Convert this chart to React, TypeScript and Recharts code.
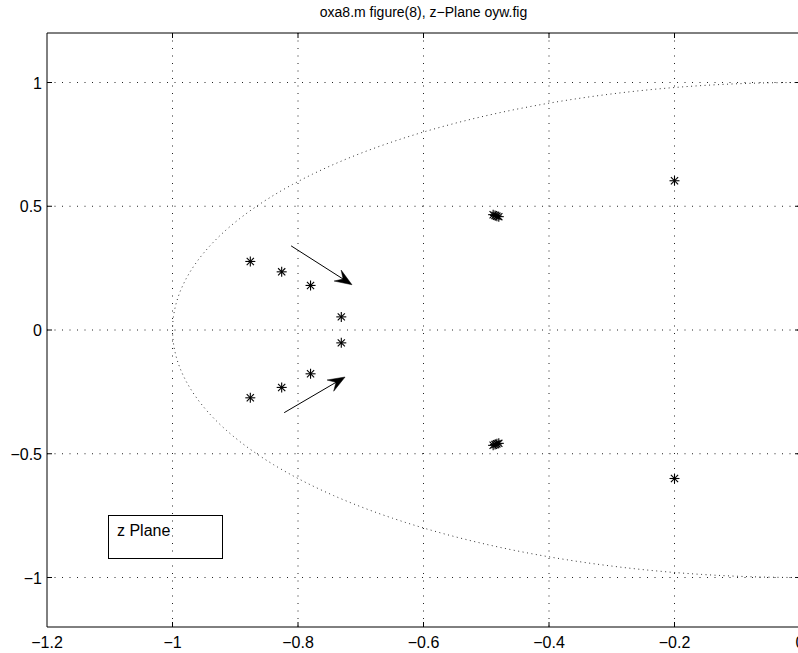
import React from 'react';
import { ComposedChart, Scatter, XAxis, YAxis, ReferenceLine, ReferenceArea } from 'recharts';

const titleText = 'oxa8.m figure(8), z\u2212Plane oyw.fig';
const legendText = 'z Plane';
const xTicks = [-1.2, -1, -0.8, -0.6, -0.4, -0.2, 0];
const yTicks = [-1, -0.5, 0, 0.5, 1];
const xDomain: [number, number] = [-1.2, 0];
const yDomain: [number, number] = [-1.2, 1.2];

// pole locations (asterisks)
const poleX = [-0.876, -0.826, -0.78, -0.731, -0.731, -0.78, -0.826, -0.876, -0.489, -0.486, -0.483, -0.480, -0.489, -0.486, -0.483, -0.480, -0.2, -0.2];
const poleY = [0.277, 0.235, 0.18, 0.053, -0.052, -0.177, -0.232, -0.274, 0.466, 0.463, 0.460, 0.458, -0.466, -0.463, -0.460, -0.458, 0.603, -0.6];

// arrows: [x1, y1, x2, y2]
const arrowUpper = [-0.811, 0.34, -0.714, 0.183];
const arrowLower = [-0.822, -0.334, -0.725, -0.19];

// unit circle reference (left half, visible part)
const circleAnglesDeg: number[] = [];
for (let a = 90; a <= 270; a += 1.5) circleAnglesDeg.push(a);

const poles = poleX.map((x, i) => ({ x, y: poleY[i] }));
const circle = circleAnglesDeg.map((a) => ({ x: Math.cos((a * Math.PI) / 180), y: Math.sin((a * Math.PI) / 180) }));

const FONT = '"Liberation Sans", Arial, Helvetica, sans-serif';
const fmt = (v: number) => String(v).replace('-', '\u2212');

const Asterisk = (props: any) => {
  const { cx, cy } = props;
  if (cx == null || cy == null) return <g />;
  const r = 5;
  const d = 3.6;
  return (
    <g stroke="#000" strokeWidth={1.1}>
      <line x1={cx - r} y1={cy} x2={cx + r} y2={cy} />
      <line x1={cx} y1={cy - r} x2={cx} y2={cy + r} />
      <line x1={cx - d} y1={cy - d} x2={cx + d} y2={cy + d} />
      <line x1={cx - d} y1={cy + d} x2={cx + d} y2={cy - d} />
    </g>
  );
};

const ArrowShape = (p: any) => {
  const { x1, y1, x2, y2 } = p;
  const dx = x2 - x1;
  const dy = y2 - y1;
  const len = Math.sqrt(dx * dx + dy * dy) || 1;
  const ux = dx / len;
  const uy = dy / len;
  const nx = -uy;
  const ny = ux;
  const hl = 17;
  const hw = 6.5;
  const bx = x2 - ux * hl;
  const by = y2 - uy * hl;
  const notchX = x2 - ux * (hl * 0.62);
  const notchY = y2 - uy * (hl * 0.62);
  const pts = `${x2},${y2} ${bx + nx * hw},${by + ny * hw} ${notchX},${notchY} ${bx - nx * hw},${by - ny * hw}`;
  return (
    <g>
      <line x1={x1} y1={y1} x2={notchX} y2={notchY} stroke="#000" strokeWidth={1} />
      <polygon points={pts} fill="#000" stroke="#000" strokeWidth={0.5} />
    </g>
  );
};

const VGrid = (p: any) => {
  const { x1, y1, y2 } = p;
  const top = Math.min(y1, y2);
  const bot = Math.max(y1, y2);
  return (
    <g>
      <line x1={x1} y1={top} x2={x1} y2={bot} stroke="#222" strokeWidth={1} strokeDasharray="1 6.5" />
      <line x1={x1} y1={top} x2={x1} y2={top + 5} stroke="#000" strokeWidth={1} />
      <line x1={x1} y1={bot} x2={x1} y2={bot - 5} stroke="#000" strokeWidth={1} />
    </g>
  );
};

const HGrid = (p: any) => {
  const { x1, x2, y1 } = p;
  const l = Math.min(x1, x2);
  const r = Math.max(x1, x2);
  return (
    <g>
      <line x1={l} y1={y1} x2={r} y2={y1} stroke="#222" strokeWidth={1} strokeDasharray="1 6.5" />
      <line x1={l} y1={y1} x2={l + 5} y2={y1} stroke="#000" strokeWidth={1} />
      <line x1={r} y1={y1} x2={r - 5} y2={y1} stroke="#000" strokeWidth={1} />
    </g>
  );
};

const XTick = (props: any) => {
  const { x, y, payload } = props;
  return (
    <text x={x} y={y + 21} textAnchor="middle" fontSize={16} fontFamily={FONT} fill="#000">
      {fmt(payload.value)}
    </text>
  );
};

const YTick = (props: any) => {
  const { x, y, payload } = props;
  return (
    <text x={x - 5} y={y + 6} textAnchor="end" fontSize={16} fontFamily={FONT} fill="#000">
      {fmt(payload.value)}
    </text>
  );
};

export default function App() {
  return (
    <div style={{ position: 'absolute', left: 0, top: 0, width: 798, height: 653, overflow: 'hidden', background: '#fff' }}>
      <ComposedChart width={810} height={653} margin={{ top: 33, right: 10, bottom: 0, left: 0 }}>
        <XAxis
          dataKey="x"
          type="number"
          domain={xDomain}
          ticks={xTicks}
          allowDataOverflow
          tickLine={false}
          axisLine={false}
          tickSize={0}
          tickMargin={0}
          height={26}
          tick={<XTick />}
          interval={0}
        />
        <YAxis
          dataKey="y"
          type="number"
          domain={yDomain}
          ticks={yTicks}
          allowDataOverflow
          tickLine={false}
          axisLine={false}
          tickSize={0}
          tickMargin={0}
          width={47}
          tick={<YTick />}
          interval={0}
        />
        {xTicks.slice(1, -1).map((v) => (
          <ReferenceLine key={'vx' + v} x={v} shape={VGrid} />
        ))}
        {yTicks.map((v) => (
          <ReferenceLine key={'hy' + v} y={v} shape={HGrid} />
        ))}
        <Scatter
          data={circle}
          line={{ stroke: '#333', strokeWidth: 1, strokeDasharray: '1 3.5' }}
          shape={() => <g />}
          isAnimationActive={false}
        />
        <Scatter data={poles} shape={<Asterisk />} isAnimationActive={false} />
        <ReferenceLine
          segment={[{ x: arrowUpper[0], y: arrowUpper[1] }, { x: arrowUpper[2], y: arrowUpper[3] }]}
          shape={ArrowShape}
        />
        <ReferenceLine
          segment={[{ x: arrowLower[0], y: arrowLower[1] }, { x: arrowLower[2], y: arrowLower[3] }]}
          shape={ArrowShape}
        />
        <ReferenceArea x1={-1.2} x2={0} y1={-1.2} y2={1.2} fill="none" stroke="#000" strokeWidth={1} fillOpacity={0} />
      </ComposedChart>
      <div
        style={{
          position: 'absolute',
          left: 0,
          width: 847,
          top: 4,
          textAlign: 'center',
          fontFamily: FONT,
          fontSize: 14,
          color: '#000',
          lineHeight: '16px',
        }}
      >
        {titleText}
      </div>
      <div
        style={{
          position: 'absolute',
          left: 108,
          top: 515,
          width: 115,
          height: 44,
          border: '1px solid #000',
          boxSizing: 'border-box',
          fontFamily: FONT,
          fontSize: 16,
          color: '#000',
        }}
      >
        <div style={{ position: 'absolute', left: 8, top: 6, lineHeight: '18px' }}>{legendText}</div>
      </div>
    </div>
  );
}
